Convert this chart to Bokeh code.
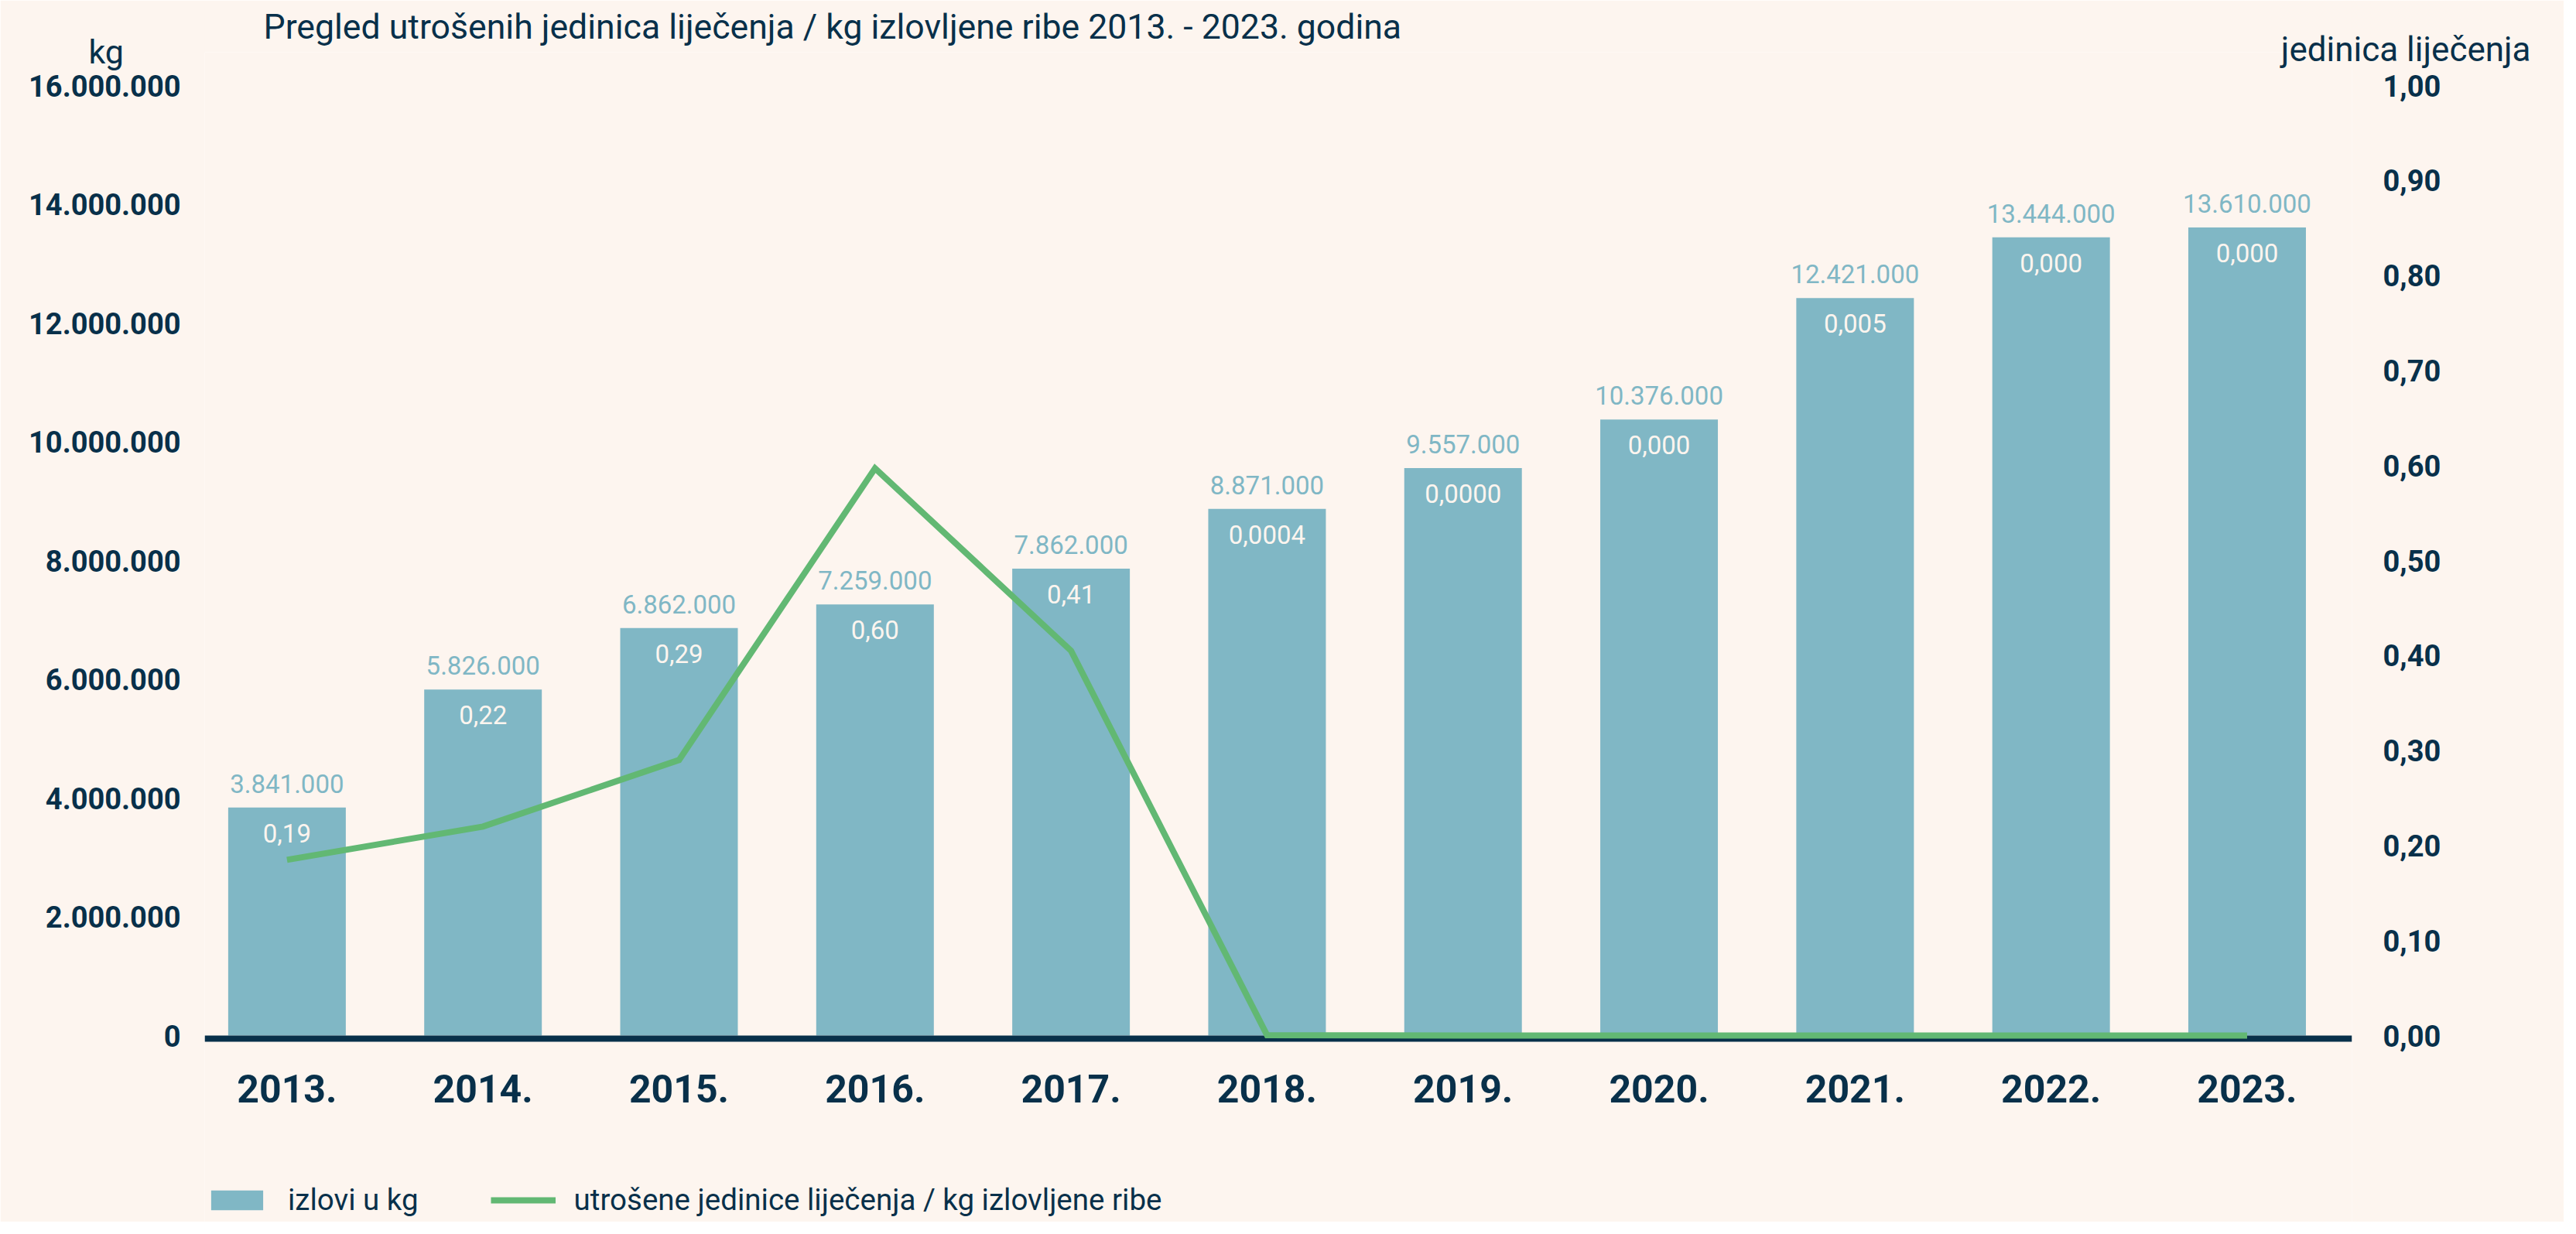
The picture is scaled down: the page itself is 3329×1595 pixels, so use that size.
from bokeh.plotting import figure
from bokeh.models import (Range1d, LinearAxis, FixedTicker, Title, Legend, LegendItem, ColumnDataSource)
from bokeh.core.properties import value
from bokeh.embed import file_html
from bokeh.resources import INLINE

# ---- data ----
years = ["2013.", "2014.", "2015.", "2016.", "2017.", "2018.", "2019.", "2020.", "2021.", "2022.", "2023."]
izlovi = [3841000, 5826000, 6862000, 7259000, 7862000, 8871000, 9557000, 10376000, 12421000, 13444000, 13610000]
izlovi_labels = ["3.841.000", "5.826.000", "6.862.000", "7.259.000", "7.862.000", "8.871.000",
                 "9.557.000", "10.376.000", "12.421.000", "13.444.000", "13.610.000"]
jedinice = [0.185, 0.22, 0.29, 0.597, 0.405, 0.0004, 0.0, 0.0, 0.0, 0.0, 0.0]
jedinice_labels = ["0,19", "0,22", "0,29", "0,60", "0,41", "0,0004", "0,0000", "0,000", "0,005", "0,000", "0,000"]
left_ticks = [0, 2000000, 4000000, 6000000, 8000000, 10000000, 12000000, 14000000, 16000000]
left_tick_labels = ["0", "2.000.000", "4.000.000", "6.000.000", "8.000.000", "10.000.000",
                    "12.000.000", "14.000.000", "16.000.000"]
right_ticks = [0.0, 0.1, 0.2, 0.3, 0.4, 0.5, 0.6, 0.7, 0.8, 0.9, 1.0]
right_tick_labels = ["0,00", "0,10", "0,20", "0,30", "0,40", "0,50", "0,60", "0,70", "0,80", "0,90", "1,00"]

title_text = "Pregled utrošenih jedinica liječenja / kg izlovljene ribe 2013. - 2023. godina"

BG = "#FDF5EF"
BAR = "#80B7C5"
GREEN = "#62B873"
NAVY = "#08304A"
FONT = "Roboto"

xs = list(range(len(years)))
src = ColumnDataSource(dict(x=xs, izlovi=izlovi, izl=izlovi_labels, jed=jedinice, jl=jedinice_labels))

H = 1579                   # figure height
PXL = 16000000 / 1228.0    # left-axis units per pixel
PXR = 1.0 / 1228.0         # right-axis units per pixel
TOP_PAD = 43               # frame extends this many px above the 16.000.000 level
TOP16 = 110                # canvas y of the 16.000.000 level
BELOW0 = H - (TOP16 + 1228)  # px of frame below the zero level (room for years + legend)

p = figure(width=3313, height=H, output_backend="svg", toolbar_location=None,
           x_range=Range1d(-0.42, 10.535),
           y_range=Range1d(-BELOW0 * PXL, 16000000 + TOP_PAD * PXL),
           min_border=0, min_border_left=264, min_border_right=274,
           min_border_top=TOP16 - TOP_PAD, min_border_bottom=0)
p.extra_y_ranges = {"r": Range1d(-BELOW0 * PXR, 1.0 + TOP_PAD * PXR)}

p.background_fill_color = BG
p.border_fill_color = BG
p.outline_line_color = None
p.xgrid.grid_line_color = None
p.ygrid.grid_line_color = None

# main title (outermost row of the top border)
p.title.text = title_text
p.title.align = "left"
p.title.offset = 76
p.title.vertical_align = "middle"
p.title.standoff = 0
p.title.text_font = FONT
p.title.text_font_style = "normal"
p.title.text_font_size = "44.6px"
p.title.text_color = NAVY

# axis unit captions (zero-height rows sitting right on the frame top)
p.add_layout(Title(text="kg", align="left", offset=-150, vertical_align="middle", standoff=-50,
                   text_font=FONT, text_font_style="normal", text_font_size="43px",
                   text_color=NAVY), "above")
p.add_layout(Title(text="jedinica liječenja", align="right", offset=-231, vertical_align="middle",
                   standoff=-50, text_font=FONT, text_font_style="normal", text_font_size="44px",
                   text_color=NAVY), "above")

bars = p.vbar(x="x", top="izlovi", width=0.6, bottom=0, source=src, color=BAR, line_color=None)
line = p.line(x="x", y="jed", source=src, y_range_name="r", color=GREEN, line_width=8,
              line_join="miter")
line.level = "overlay"

p.text(x="x", y="izlovi", text="izl", source=src, y_offset=-31, text_align="center",
       text_baseline="middle", text_color=BAR, text_font=value(FONT), text_font_size="33px")
p.text(x="x", y="izlovi", text="jl", source=src, y_offset=33, text_align="center",
       text_baseline="middle", text_color=BG, text_font=value(FONT), text_font_size="33px")

# x axis, pinned just under the zero level
xa = p.xaxis[0]
xa.fixed_location = -4 * PXL
xa.ticker = FixedTicker(ticks=xs)
xa.major_label_overrides = {i: y for i, y in zip(xs, years)}
xa.axis_line_color = NAVY
xa.axis_line_width = 8
xa.major_tick_line_color = None
xa.minor_tick_line_color = None
xa.major_tick_out = 0
xa.minor_tick_out = 0
xa.major_label_standoff = 46
xa.major_label_text_font = FONT
xa.major_label_text_font_style = "bold"
xa.major_label_text_font_size = "50px"
xa.major_label_text_color = NAVY

# left axis
ya = p.yaxis[0]
ya.ticker = FixedTicker(ticks=left_ticks)
ya.major_label_overrides = {t: l for t, l in zip(left_ticks, left_tick_labels)}
ya.axis_line_color = None
ya.major_tick_line_color = None
ya.minor_tick_line_color = None
ya.major_tick_out = 0
ya.minor_tick_out = 0
ya.major_label_standoff = 31
ya.major_label_text_font = FONT
ya.major_label_text_font_style = "bold"
ya.major_label_text_font_size = "38px"
ya.major_label_text_color = NAVY

# right axis
ra = LinearAxis(y_range_name="r")
ra.ticker = FixedTicker(ticks=right_ticks)
ra.major_label_overrides = {t: l for t, l in zip(right_ticks, right_tick_labels)}
ra.axis_line_color = None
ra.major_tick_line_color = None
ra.minor_tick_line_color = None
ra.major_tick_out = 0
ra.minor_tick_out = 0
ra.major_label_standoff = 40
ra.major_label_text_font = FONT
ra.major_label_text_font_style = "bold"
ra.major_label_text_font_size = "38px"
ra.major_label_text_color = NAVY
p.add_layout(ra, "right")

legend = Legend(items=[LegendItem(label="izlovi u kg", renderers=[bars]),
                       LegendItem(label="utrošene jedinice liječenja / kg izlovljene ribe", renderers=[line])],
                orientation="horizontal", location=(0, 6),
                glyph_width=84, glyph_height=32, label_standoff=24, spacing=93,
                padding=0, margin=0, border_line_color=None, background_fill_alpha=0,
                label_text_font=FONT, label_text_font_size="38.5px", label_text_color=NAVY)
p.add_layout(legend, "center")

open("out.html", "w").write(file_html(p, INLINE))
